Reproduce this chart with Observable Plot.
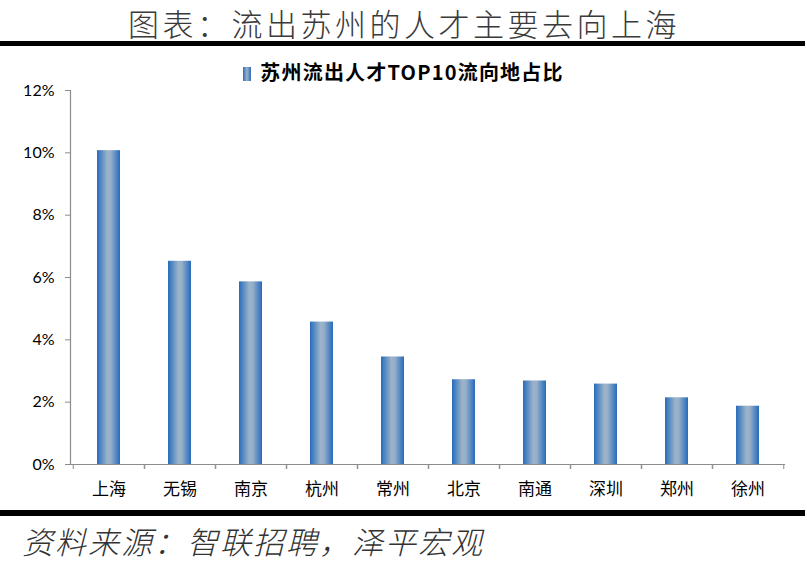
<!DOCTYPE html>
<html>
<head>
<meta charset="utf-8">
<script src="https://cdn.jsdelivr.net/npm/d3@7"></script>
<script src="https://cdn.jsdelivr.net/npm/@observablehq/plot@0.6"></script>
<style>
  html, body { margin: 0; padding: 0; background: #fff; }
  #page { position: relative; width: 807px; height: 566px; overflow: hidden; background: #fff; }
  #title { position: absolute; left: 128px; top: 0px; padding: 0;
    font-family: "Noto Sans CJK SC", sans-serif; font-weight: 300; font-size: 31px; letter-spacing: 3.5px;
    color: #3a3a3a; line-height: normal; white-space: nowrap; }
  .bar-line { position: absolute; left: 0; width: 805px; background: #000; }
  #legend { position: absolute; left: 0; width: 807px; top: 60px; text-align: center;
    font-family: "Noto Sans CJK SC", serif; font-weight: 700; font-size: 20px; letter-spacing: 1.2px; color: #000; line-height: 24px; }
  #legend .sw { display: inline-block; width: 8px; height: 14px; margin-right: 9px; vertical-align: -1px;
    background: linear-gradient(to right, #2f6db5, #9ab2c9 50%, #2f6db5); }
  #chart { position: absolute; left: 0; top: 80px; }
  #caption { position: absolute; left: 22px; top: 518px; font-family: "Noto Sans CJK SC", sans-serif;
    font-style: italic; font-weight: 300; font-size: 31px; letter-spacing: 2px; color: #333; line-height: normal; white-space: nowrap; }
</style>
</head>
<body>
<div id="page">
  <div id="title">图表：流出苏州的人才主要去向上海</div>
  <div class="bar-line" style="top:41px;height:5px;"></div>
  <div id="legend"><span class="sw"></span>苏州流出人才TOP10流向地占比</div>
  <div id="chart"></div>
  <div class="bar-line" style="top:510px;height:6px;"></div>
  <div id="caption">资料来源：智联招聘，泽平宏观</div>
</div>
<script>
const cities = ["上海", "无锡", "南京", "杭州", "常州", "北京", "南通", "深圳", "郑州", "徐州"];
const shares = [10.07, 6.52, 5.86, 4.57, 3.45, 2.72, 2.68, 2.58, 2.14, 1.87];
const yTicks = [0, 2, 4, 6, 8, 10, 12];

const data = cities.map((c, i) => ({city: c, share: shares[i]}));

const W = 807, H = 430, ML = 70, MR = 22, MT = 10, MB = 46;
const step = (W - ML - MR) / cities.length;

const chart = Plot.plot({
  width: W,
  height: H,
  marginLeft: ML,
  marginRight: MR,
  marginTop: MT,
  marginBottom: MB,
  style: {background: "transparent", color: "#000", overflow: "visible"},
  x: {domain: cities, paddingInner: 0.68, paddingOuter: 0.34, label: null},
  y: {domain: [0, 12], label: null},
  marks: [
    Plot.barY(data, {x: "city", y: "share", fill: "url(#barGrad)"}),
    Plot.ruleY([0], {stroke: "#8c8c8c", strokeWidth: 1.2}),
    Plot.frame({anchor: "left", stroke: "#8c8c8c", strokeWidth: 1.2}),
    Plot.axisY({ticks: yTicks, tickFormat: d => d + "%", tickSize: 5, tickPadding: 11,
      stroke: "#8c8c8c", fontSize: 16, fontFamily: "Lato, sans-serif", fill: "#000", label: null}),
    Plot.axisX({tickSize: 0, tickPadding: 18, fontSize: 17, fontFamily: "'Noto Sans CJK SC', serif", fill: "#000", label: null}),
    Plot.axisX({text: null, tickSize: 5, dx: -step / 2, stroke: "#8c8c8c", label: null}),
    Plot.axisX({text: null, tickSize: 5, dx: step / 2, stroke: "#8c8c8c", label: null})
  ]
});

const ns = "http://www.w3.org/2000/svg";
const defs = document.createElementNS(ns, "defs");
defs.innerHTML = `<linearGradient id="barGrad" x1="0" x2="1" y1="0" y2="0">
  <stop offset="0" stop-color="#2c6ab6"/>
  <stop offset="0.12" stop-color="#4580c2"/>
  <stop offset="0.45" stop-color="#9cb3c9"/>
  <stop offset="0.6" stop-color="#97afc8"/>
  <stop offset="0.88" stop-color="#4580c2"/>
  <stop offset="1" stop-color="#2c6ab6"/>
</linearGradient>`;
chart.insertBefore(defs, chart.firstChild);
document.getElementById("chart").appendChild(chart);
</script>
</body>
</html>
